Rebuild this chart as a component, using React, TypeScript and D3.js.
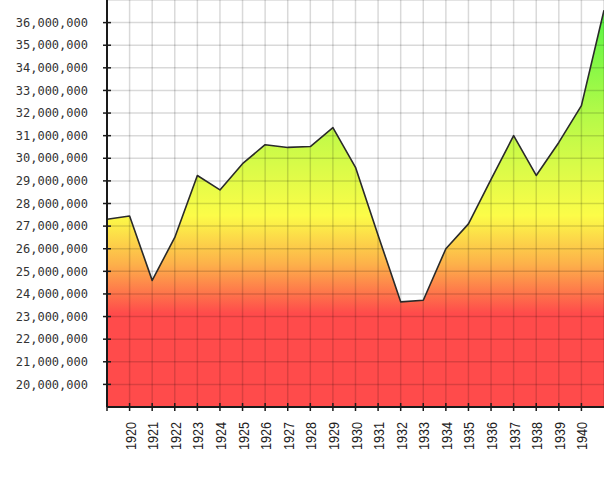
import React from 'react';
import * as d3 from 'd3';

// data
const years = [1919, 1920, 1921, 1922, 1923, 1924, 1925, 1926, 1927, 1928, 1929, 1930,
  1931, 1932, 1933, 1934, 1935, 1936, 1937, 1938, 1939, 1940, 1941];
const values = [27300000, 27450000, 24600000, 26500000, 29240000, 28600000, 29760000, 30600000,
  30480000, 30520000, 31360000, 29600000, 26600000, 23650000, 23720000, 26000000, 27100000,
  29070000, 31000000, 29240000, 30700000, 32330000, 36550000];
const yTicks = [20000000, 21000000, 22000000, 23000000, 24000000, 25000000, 26000000, 27000000,
  28000000, 29000000, 30000000, 31000000, 32000000, 33000000, 34000000, 35000000, 36000000];
const xTicks = [1920, 1921, 1922, 1923, 1924, 1925, 1926, 1927, 1928, 1929, 1930, 1931, 1932,
  1933, 1934, 1935, 1936, 1937, 1938, 1939, 1940];

const App = () => {
  const width = 604;
  const height = 480;
  const margin = { top: 0, right: 0, bottom: 73, left: 107 };
  const plotH = height - margin.bottom;

  const x = d3.scaleLinear().domain([1919, 1941]).range([margin.left, width - margin.right]);
  const y = d3.scaleLinear().domain([19000000, 37000000]).range([plotH, margin.top]);

  const points = years.map((yr, i) => ({ yr, v: values[i] }));

  const area = d3.area<{ yr: number; v: number }>()
    .x(d => x(d.yr))
    .y0(y(19000000))
    .y1(d => y(d.v));

  const line = d3.line<{ yr: number; v: number }>()
    .x(d => x(d.yr))
    .y(d => y(d.v));

  const fmt = d3.format(',');
  const gridV = d3.range(1920, 1942);
  const gridH = d3.range(20000000, 37000001, 1000000);

  return (
    <svg width={width} height={height} style={{ position: 'absolute', left: 0, top: 0, background: '#fff' }}>
      <defs>
        <linearGradient id="fillGrad" gradientUnits="userSpaceOnUse"
          x1={0} x2={0} y1={y(37000000)} y2={y(19000000)}>
          <stop offset="0" stopColor="#4cf545" />
          <stop offset="0.28" stopColor="#b4fa48" />
          <stop offset="0.53" stopColor="#fcfc48" />
          <stop offset="0.65" stopColor="#fdb04a" />
          <stop offset="0.77" stopColor="#ff4b4b" />
          <stop offset="1" stopColor="#ff4b4b" />
        </linearGradient>
        <clipPath id="plotClip">
          <rect x={margin.left} y={0} width={width - margin.left} height={plotH} />
        </clipPath>
      </defs>

      <g clipPath="url(#plotClip)">
        <path d={area(points) || ''} fill="url(#fillGrad)" />
        {gridV.map(t => (
          <line key={'gv' + t} x1={x(t)} x2={x(t)} y1={0} y2={plotH}
            stroke="rgba(0,0,0,0.15)" strokeWidth={1.5} />
        ))}
        {gridH.map(t => (
          <line key={'gh' + t} x1={margin.left} x2={width} y1={y(t)} y2={y(t)}
            stroke="rgba(0,0,0,0.15)" strokeWidth={1.5} />
        ))}
        <path d={line(points) || ''} fill="none" stroke="#2a2a2a" strokeWidth={1.6} strokeLinejoin="round" />
      </g>

      {/* y axis */}
      <line x1={margin.left} x2={margin.left} y1={0} y2={plotH} stroke="#1a1a1a" strokeWidth={2} />
      {yTicks.map(t => (
        <g key={'yt' + t}>
          <line x1={margin.left - 4} x2={margin.left + 4} y1={y(t)} y2={y(t)} stroke="#1a1a1a" strokeWidth={1.5} />
          <text x={88} y={y(t)} dy="0.35em" textAnchor="end"
            fontFamily="'DejaVu Sans Mono', monospace" fontSize={12} fill="#333">{fmt(t)}</text>
        </g>
      ))}

      {/* x axis */}
      <line x1={margin.left} x2={width} y1={plotH} y2={plotH} stroke="#1a1a1a" strokeWidth={2} />
      {[1919, ...xTicks].map(t => (
        <line key={'xt' + t} x1={x(t)} x2={x(t)} y1={plotH - 4} y2={plotH + 4} stroke="#1a1a1a" strokeWidth={1.5} />
      ))}
      {xTicks.map(t => (
        <text key={'xl' + t} transform={`translate(${x(t) + 6},${plotH + 15}) rotate(-90)`}
          textAnchor="end" fontFamily="'Liberation Sans', Arial, sans-serif" fontSize={15}
          textLength={28} lengthAdjust="spacingAndGlyphs" fill="#222">{t}</text>
      ))}
    </svg>
  );
};

export default App;
